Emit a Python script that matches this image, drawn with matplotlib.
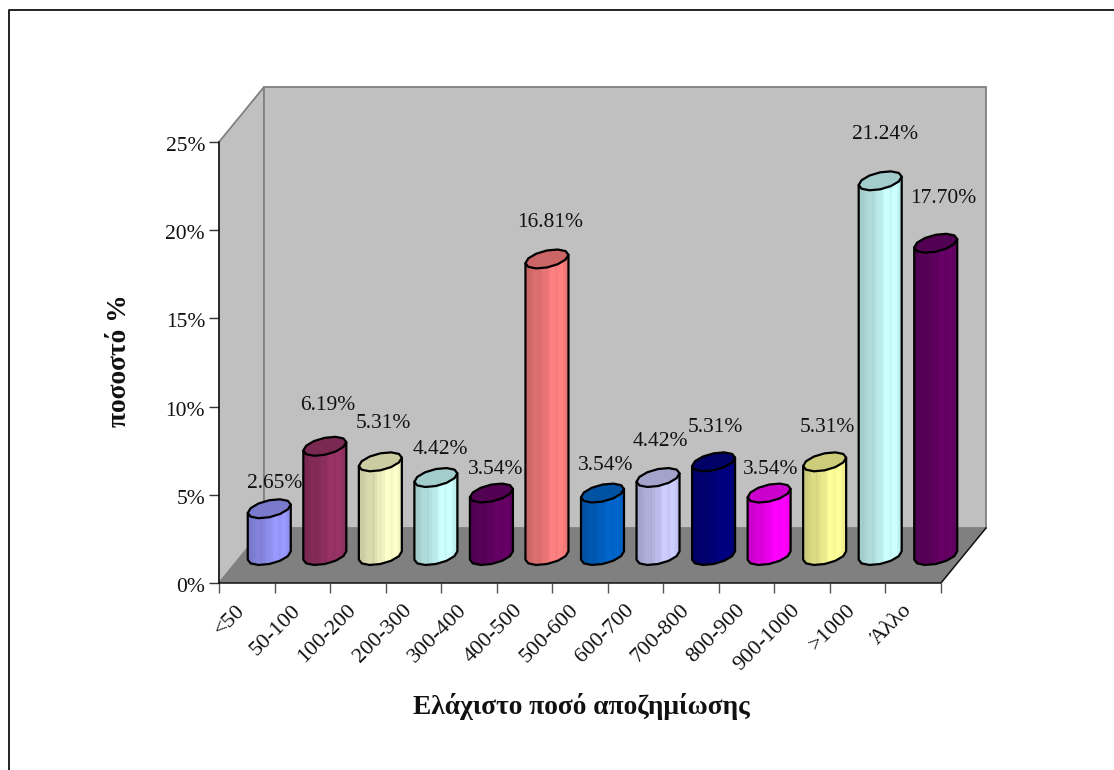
import numpy as np
import matplotlib
matplotlib.use("Agg")
import matplotlib.pyplot as plt
from matplotlib.patches import Polygon
from matplotlib.lines import Line2D
from matplotlib.ticker import FuncFormatter
from matplotlib.colors import to_rgb
from matplotlib.transforms import ScaledTranslation

categories = ["<50", "50-100", "100-200", "200-300", "300-400", "400-500", "500-600",
              "600-700", "700-800", "800-900", "900-1000", ">1000", "Άλλο"]
values = [2.65, 6.19, 5.31, 4.42, 3.54, 16.81, 3.54, 4.42, 5.31, 3.54, 5.31, 21.24, 17.70]
colors = ["#9999FF", "#993366", "#FFFFCC", "#CCFFFF", "#660066", "#FF8080", "#0066CC",
          "#CCCCFF", "#000080", "#FF00FF", "#FFFF99", "#CCFFFF", "#660066"]
y_ticks = [0, 5, 10, 15, 20, 25]
x_title = "Ελάχιστο ποσό αποζημίωσης"
y_title = "ποσοστό %"
# hand-placed data label offsets from the bar top (pixels)
label_dx = [5, 3, 3, 4, 4, 3, 3, 2, 2, 2, 3, 5, 8]
label_dy = [28, 44, 41, 31, 26, 39, 30, 39, 37, 26, 37, 49, 48]

W, H = 1114, 770
L, R, B, T = 219, 941, 583, 142
DX, DY = 45, 55

plt.rcParams["font.family"] = ["Liberation Serif", "DejaVu Serif"]
fig = plt.figure(figsize=(W / 100, H / 100), dpi=100, facecolor="white")
ax = fig.add_axes([L / W, (H - B) / H, (R - L) / W, (B - T) / H])
ax.set_xlim(-0.5, 12.5)
ax.set_ylim(0, 25)
ux = (R - L) / 13      # pixels per category
uy = (B - T) / 25      # pixels per percent
ddx, ddy = DX / ux, DY / uy   # chart depth in data units

# outer frame: only the top and left lines are inside the picture
fig.add_artist(Line2D([8.5 / W, 8.5 / W, 1], [0, 1 - 9.5 / H, 1 - 9.5 / H], transform=fig.transFigure,
                      color="#222222", lw=1.4))

x0, x1 = -0.5, 12.5
wall_ec = "#808080"
ax.add_patch(Polygon([(x0, 0), (x0 + ddx, ddy), (x0 + ddx, 25 + ddy), (x0, 25)], fc="#C0C0C0",
                     ec=wall_ec, lw=1.3, clip_on=False, zorder=1))
ax.add_patch(Polygon([(x0 + ddx, ddy), (x1 + ddx, ddy), (x1 + ddx, 25 + ddy), (x0 + ddx, 25 + ddy)],
                     fc="#C0C0C0", ec=wall_ec, lw=1.3, clip_on=False, zorder=1))
ax.add_patch(Polygon([(x0, 0), (x1, 0), (x1 + ddx, ddy), (x0 + ddx, ddy)], fc="#808080",
                     ec="none", clip_on=False, zorder=2))
ax.plot([x0, x1, x1 + ddx], [0, 0, ddy], color="#111111", lw=1.1, clip_on=False, zorder=3)
ax.plot([x0, x0], [0, 25], color="#111111", lw=1.1, clip_on=False, zorder=3)

# column geometry, in data units
half_w = 21.5 / ux
base_y = ddy / 2
bar_dx = ddx / 2
tilt = 4.2 / uy      # rise of the right end of the ellipse
minor = 8.5 / uy     # half height of the ellipse
t = np.linspace(0, 2 * np.pi, 13)
shade = np.array([.80, .80, .83, .86, .86, .84, .88, .92, .92, .95, 1.0, 1.0, .97, 1.0, 1.0, .96, .93])

for i, (v, c) in enumerate(zip(values, colors)):
    cx = i + bar_dx
    top = base_y + v
    rgb = np.array(to_rgb(c))
    ts = np.linspace(0, np.pi, 7)
    bx = cx + half_w * np.cos(ts)
    by = base_y + minor * -np.sin(ts) + tilt * np.cos(ts)
    outline = np.vstack([
        np.column_stack([bx, by]),
        [[cx - half_w, top - tilt]],
        [[cx + half_w, top + tilt]],
    ])
    body = Polygon(outline, closed=True, fc="none", ec="black", lw=1.6, zorder=6 + i, clip_on=False,
                   joinstyle="round")
    img = (shade[:, None] * rgb)[None, :, :]
    im = ax.imshow(img, extent=(cx - half_w, cx + half_w, base_y - 2 * minor, top + 2 * minor),
                   aspect="auto", interpolation="nearest", zorder=5 + i)
    ax.add_patch(body)
    im.set_clip_box(fig.bbox)
    im.set_clip_path(body)
    cap = np.column_stack([cx + half_w * np.cos(t), top + minor * np.sin(t) + tilt * np.cos(t)])
    ax.add_patch(Polygon(cap, closed=True, fc=rgb * 0.8, ec="black", lw=1.6, zorder=6 + i, clip_on=False,
                         joinstyle="round"))
    ax.annotate(f"{v:.2f}%", xy=(cx, top), xytext=(label_dx[i] * 0.72, label_dy[i] * 0.72 - 2),
                textcoords="offset points", ha="center", va="center", fontsize=15.5, color="#111111",
                zorder=40, annotation_clip=False)

ax.set_xlim(-0.5, 12.5)
ax.set_ylim(0, 25)
ax.patch.set_visible(False)
for s in ax.spines.values():
    s.set_visible(False)

ax.set_yticks(y_ticks)
ax.yaxis.set_major_formatter(FuncFormatter(lambda v, _: f"{v:.0f}%"))
ax.tick_params(axis="y", length=7, width=1, color="#333333", labelsize=15.5, pad=3, labelcolor="#111111")
nudge = ScaledTranslation(0, -2 / 100, fig.dpi_scale_trans)
for lab in ax.get_yticklabels():
    lab.set_transform(lab.get_transform() + nudge)
ax.set_xticks(np.arange(-0.5, 13, 1), minor=True)
ax.tick_params(axis="x", which="minor", length=7, width=1, color="#555555")
ax.set_xticks(np.arange(13) - 0.2)
ax.set_xticklabels(categories, rotation=45, ha="right", va="top", rotation_mode="anchor",
                   fontsize=16, color="#111111")
ax.tick_params(axis="x", which="major", length=0, pad=13)

fig.text(581 / W, 1 - 707 / H, x_title, ha="center", va="center", fontsize=19.8, fontweight="bold", color="#111111")
fig.text(119 / W, 1 - 361 / H, y_title, ha="center", va="center", rotation=90, fontsize=19.8, fontweight="bold",
         color="#111111")

fig.savefig("out.png", dpi=100, facecolor="white")
